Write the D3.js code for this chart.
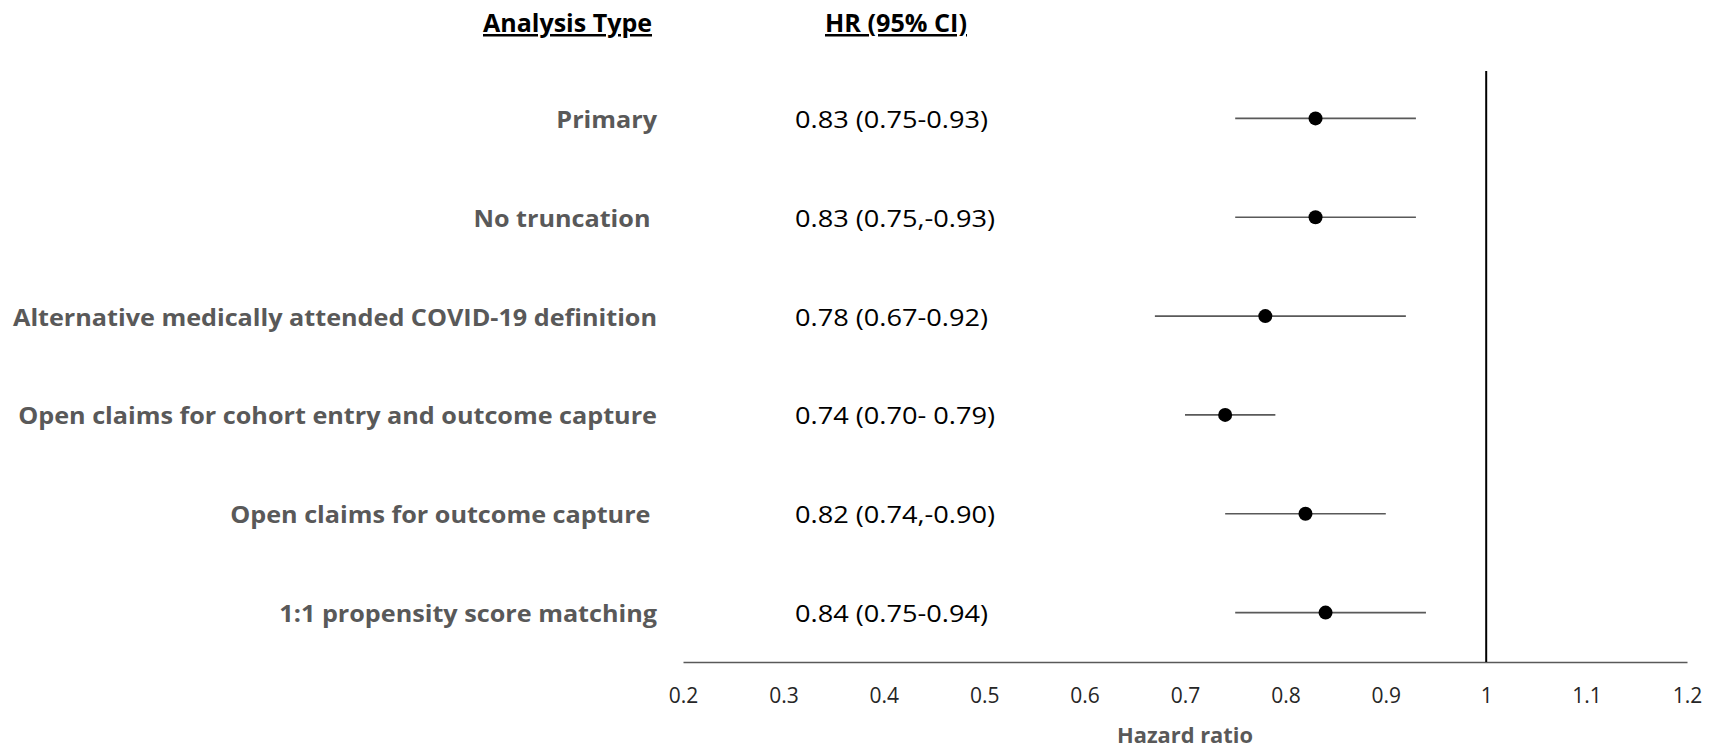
<!DOCTYPE html>
<html>
<head>
<meta charset="utf-8">
<script src="https://cdn.jsdelivr.net/npm/d3@7"></script>
<style>
  body { margin: 0; background: #fff; }
  svg text { font-family: "Open Sans", "Noto Sans", sans-serif; }
</style>
</head>
<body>
<div class="forest"></div>
<script>
// data
var analyses = [
    "Primary",
    "No truncation ",
    "Alternative medically attended COVID-19 definition",
    "Open claims for cohort entry and outcome capture",
    "Open claims for outcome capture ",
    "1:1 propensity score matching"
];
var hr = [0.83, 0.83, 0.78, 0.74, 0.82, 0.84];
var ciLow = [0.75, 0.75, 0.67, 0.70, 0.74, 0.75];
var ciHigh = [0.93, 0.93, 0.92, 0.79, 0.90, 0.94];
var hrLabels = [
    "0.83 (0.75-0.93)",
    "0.83 (0.75,-0.93)",
    "0.78 (0.67-0.92)",
    "0.74 (0.70- 0.79)",
    "0.82 (0.74,-0.90)",
    "0.84 (0.75-0.94)"
];
var xTicks = [0.2, 0.3, 0.4, 0.5, 0.6, 0.7, 0.8, 0.9, 1, 1.1, 1.2];

var width = 1722, height = 749;

var svg = d3.select(".forest")
    .append("svg")
    .attr("width", width)
    .attr("height", height);

var x = d3.scaleLinear().domain([0.2, 1.2]).range([683, 1687]);
var y = d3.scalePoint().domain(d3.range(analyses.length)).range([69, 662]).padding(0.5);

// squeeze text to mimic the narrow Calibri look
function squeeze(sel, factor) {
    sel.each(function () {
        var w = this.getComputedTextLength();
        d3.select(this).attr("textLength", w * factor).attr("lengthAdjust", "spacingAndGlyphs");
    });
}

//headers
var h1 = svg.append("text")
    .attr("x", 652).attr("y", 32)
    .attr("text-anchor", "end")
    .attr("font-size", 25).attr("font-weight", "bold")
    .attr("text-decoration", "underline")
    .attr("fill", "#000")
    .text("Analysis Type");
var h2 = svg.append("text")
    .attr("x", 825).attr("y", 32)
    .attr("font-size", 25).attr("font-weight", "bold")
    .attr("text-decoration", "underline")
    .attr("fill", "#000")
    .text("HR (95% CI)");
squeeze(h1, 169 / h1.node().getComputedTextLength());
squeeze(h2, 142 / h2.node().getComputedTextLength());

//row labels
var labels = svg.append("g").selectAll("text")
    .data(analyses)
    .join("text")
    .attr("x", 657)
    .attr("y", function (d, i) { return y(i); })
    .attr("text-anchor", "end")
    .attr("dominant-baseline", "central")
    .attr("font-size", 24)
    .attr("font-weight", "bold")
    .attr("fill", "#595959")
    .style("white-space", "pre")
    .text(function (d) { return d; });

// scale all labels by the same factor so the longest spans the reference width
var longest = d3.max(labels.nodes(), function (n) { return n.getComputedTextLength(); });
squeeze(labels, 644 / longest);

//hr texts
var hrText = svg.append("g").selectAll("text")
    .data(hrLabels)
    .join("text")
    .attr("x", 795)
    .attr("y", function (d, i) { return y(i); })
    .attr("dominant-baseline", "central")
    .attr("font-size", 24)
    .attr("fill", "#000")
    .text(function (d) { return d; });
var first = hrText.node().getComputedTextLength();
squeeze(hrText, 193 / first);

//x axis
var axis = svg.append("g")
    .attr("transform", "translate(0,662)")
    .call(d3.axisBottom(x).tickValues(xTicks).tickSize(0).tickPadding(26).tickFormat(d3.format("")));
axis.select(".domain").attr("stroke", "#595959").attr("stroke-width", 1.5);
axis.selectAll(".tick text")
    .attr("font-size", 21)
    .attr("fill", "#262626")
    .attr("font-family", "'Open Sans', sans-serif");

var xt = svg.append("text")
    .attr("x", (x.range()[0] + x.range()[1]) / 2)
    .attr("y", 743)
    .attr("text-anchor", "middle")
    .attr("font-size", 22)
    .attr("font-weight", "bold")
    .attr("fill", "#595959")
    .text("Hazard ratio");
squeeze(xt, 136 / xt.node().getComputedTextLength());

//reference line at 1
svg.append("line")
    .attr("x1", x(1)).attr("x2", x(1))
    .attr("y1", 71).attr("y2", 662)
    .attr("stroke", "#000")
    .attr("stroke-width", 2);

//confidence intervals
svg.append("g").selectAll("line")
    .data(hr)
    .join("line")
    .attr("x1", function (d, i) { return x(ciLow[i]); })
    .attr("x2", function (d, i) { return x(ciHigh[i]); })
    .attr("y1", function (d, i) { return y(i); })
    .attr("y2", function (d, i) { return y(i); })
    .attr("stroke", "#595959")
    .attr("stroke-width", 1.6);

//points
svg.append("g").selectAll("circle")
    .data(hr)
    .join("circle")
    .attr("cx", function (d) { return x(d); })
    .attr("cy", function (d, i) { return y(i); })
    .attr("r", 7)
    .attr("fill", "#000");
</script>
</body>
</html>
